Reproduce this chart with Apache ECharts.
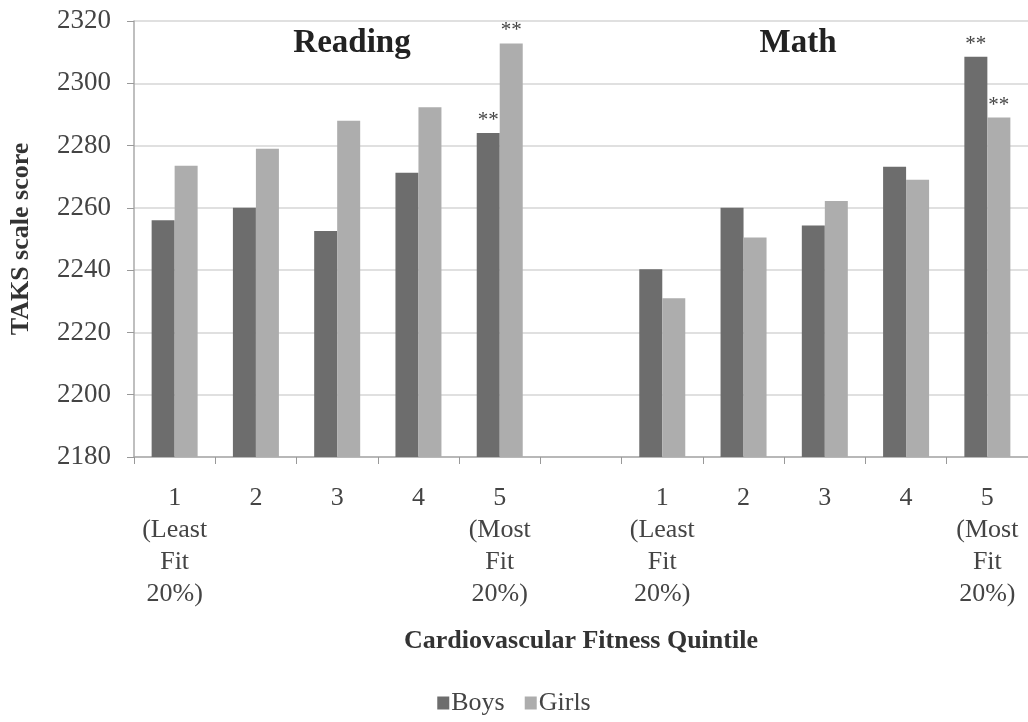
<!DOCTYPE html>
<html>
<head>
<meta charset="utf-8">
<script src="https://cdn.jsdelivr.net/npm/echarts@6/dist/echarts.min.js"></script>
<style>
  html, body { margin: 0; padding: 0; background: #fff; }
  #chart { width: 1028px; height: 722px; }
</style>
</head>
<body>
<div id="chart"></div>
<script>
const categories = [
  '1\n(Least\nFit\n20%)', '2', '3', '4', '5\n(Most\nFit\n20%)',
  '',
  '1\n(Least\nFit\n20%)', '2', '3', '4', '5\n(Most\nFit\n20%)'
]
const boys = [2256, 2260, 2252.6, 2271.3, 2284, null, 2240.3, 2260, 2254.3, 2273.2, 2308.5]
const girls = [2273.5, 2279, 2288, 2292.3, 2312.8, null, 2231, 2250.5, 2262.2, 2269, 2289]
// bars marked as significant (**)
const boysStars = [4, 10]
const girlsStars = [4, 10]
const yTicks = { min: 2180, max: 2320, interval: 20 }

const serif = '"Liberation Serif", "DejaVu Serif", serif'

function withStars(values, stars) {
  return values.map((v, i) => stars.includes(i)
    ? { value: v, label: { show: true } }
    : v)
}

const starLabel = {
  show: false,
  position: 'top',
  formatter: '**',
  fontFamily: serif,
  fontSize: 21,
  color: '#444',
  distance: 2
}

const myChart = echarts.init(document.getElementById('chart'))
myChart.setOption({
  animation: false,
  textStyle: { fontFamily: serif },
  title: [
    {
      text: 'Reading',
      left: 347, top: 22,
      textAlign: 'center',
      textStyle: { fontFamily: serif, fontSize: 33, fontWeight: 'bold', color: '#222' }
    },
    {
      text: 'Math',
      left: 793, top: 22,
      textAlign: 'center',
      textStyle: { fontFamily: serif, fontSize: 33, fontWeight: 'bold', color: '#222' }
    }
  ],
  legend: {
    bottom: 1,
    left: 'center',
    icon: 'rect',
    itemWidth: 12,
    itemHeight: 13,
    itemGap: 20,
    textStyle: { fontFamily: serif, fontSize: 26, color: '#444', padding: [0, 0, 0, -3] },
    data: ['Boys', 'Girls']
  },
  grid: {
    left: 133,
    right: 0,
    top: 21,
    bottom: 265,
    containLabel: false
  },
  xAxis: {
    type: 'category',
    data: categories,
    name: 'Cardiovascular Fitness Quintile',
    nameLocation: 'middle',
    nameGap: 171,
    nameTextStyle: { fontFamily: serif, fontSize: 26, fontWeight: 'bold', color: '#333' },
    axisLine: { lineStyle: { color: '#aaa', width: 1.5 } },
    axisTick: { show: true, length: 7, lineStyle: { color: '#999' } },
    axisLabel: {
      interval: 0,
      margin: 25,
      fontFamily: serif,
      fontSize: 26,
      lineHeight: 32,
      color: '#444',
      verticalAlign: 'top'
    }
  },
  yAxis: {
    type: 'value',
    min: yTicks.min,
    max: yTicks.max,
    interval: yTicks.interval,
    name: 'TAKS scale score',
    nameLocation: 'middle',
    nameGap: 100,
    nameTextStyle: { fontFamily: serif, fontSize: 26, fontWeight: 'bold', color: '#333' },
    axisLine: { show: true, lineStyle: { color: '#aaa', width: 1.5 } },
    axisTick: { show: true, length: 7, inside: false, lineStyle: { color: '#999' } },
    axisLabel: {
      fontFamily: serif,
      fontSize: 27,
      color: '#444',
      margin: 23,
      formatter: v => String(v)
    },
    splitLine: { lineStyle: { color: '#d6d6d6', width: 1.5 } }
  },
  series: [
    {
      name: 'Boys',
      type: 'bar',
      data: withStars(boys, boysStars),
      barWidth: 23,
      barGap: '0%',
      itemStyle: { color: '#6d6d6d' },
      label: starLabel
    },
    {
      name: 'Girls',
      type: 'bar',
      data: withStars(girls, girlsStars),
      barWidth: 23,
      barGap: '0%',
      itemStyle: { color: '#adadad' },
      label: starLabel
    }
  ]
})
</script>
</body>
</html>
